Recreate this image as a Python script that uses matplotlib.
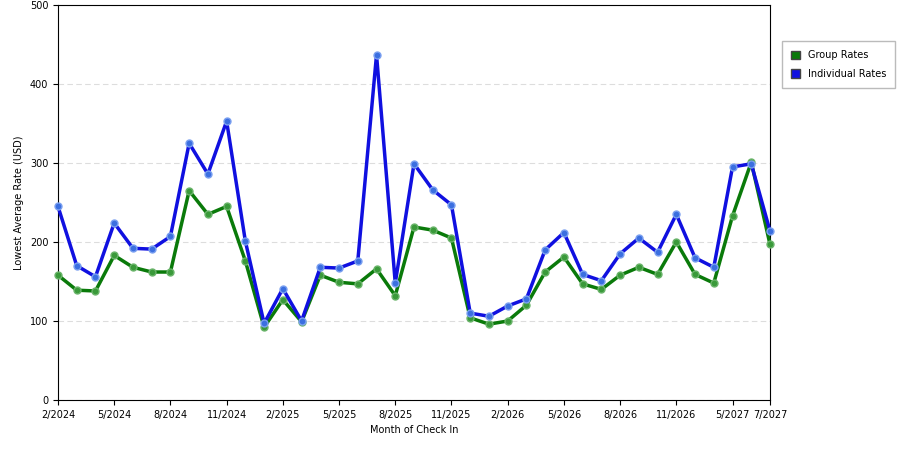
import matplotlib
matplotlib.use("Agg")
import matplotlib.pyplot as plt
from matplotlib.patches import Patch

months = ["2/2024","3/2024","4/2024","5/2024","6/2024","7/2024","8/2024","9/2024","10/2024","11/2024","12/2024","1/2025",
          "2/2025","3/2025","4/2025","5/2025","6/2025","7/2025","8/2025","9/2025","10/2025","11/2025","12/2025","1/2026",
          "2/2026","3/2026","4/2026","5/2026","6/2026","7/2026","8/2026","9/2026","10/2026","11/2026","12/2026","4/2027",
          "5/2027","6/2027","7/2027"]
tick_labels = ["2/2024","5/2024","8/2024","11/2024","2/2025","5/2025","8/2025","11/2025","2/2026","5/2026","8/2026","11/2026","5/2027","7/2027"]
group = [158,139,138,183,168,162,162,265,235,245,176,92,127,99,158,149,147,166,132,219,215,205,104,96,100,120,162,181,147,140,158,168,159,200,159,148,233,301,197]
individual = [245,170,156,224,192,191,207,325,286,353,201,97,141,100,168,167,176,437,148,299,266,247,110,106,119,128,190,212,159,151,185,205,187,235,180,168,295,299,214]

fig = plt.figure(figsize=(9, 4.5), dpi=100)
ax = fig.add_axes([58/900, 50/450, 712/900, 395/450])
x = list(range(len(months)))
ax.plot(x, group, color="#0a7a0a", lw=2.5, marker="o", ms=5, mfc="#3a9a3a", mec="#6ab46a", zorder=3, clip_on=False)
ax.plot(x, individual, color="#1010e0", lw=2.5, marker="o", ms=5, mfc="#3b6fe0", mec="#7aa0f0", zorder=3, clip_on=False)
ax.set_xlim(0, len(months)-1)
ax.set_ylim(0, 500)
ticks = [months.index(t) for t in tick_labels]
ax.set_xticks(ticks)
ax.set_xticklabels(tick_labels, fontsize=7)
ax.set_yticks(range(0, 501, 100))
ax.tick_params(axis="y", labelsize=7)
ax.yaxis.grid(True, ls=(0, (5, 3)), color="#dddddd", lw=0.8)
ax.set_xlabel("Month of Check In", fontsize=7)
ax.set_ylabel("Lowest Average Rate (USD)", fontsize=7)
ax.legend(handles=[Patch(facecolor="#0a7a0a", edgecolor="#444444", label="Group Rates"),
                   Patch(facecolor="#1010e0", edgecolor="#444444", label="Individual Rates")],
          loc="upper left", bbox_to_anchor=(1.01, 0.92), fontsize=7, frameon=True, edgecolor="#aaaaaa",
          fancybox=False, handlelength=1.0, handleheight=1.0, borderpad=0.9, labelspacing=0.9)
fig.savefig("out.png")
